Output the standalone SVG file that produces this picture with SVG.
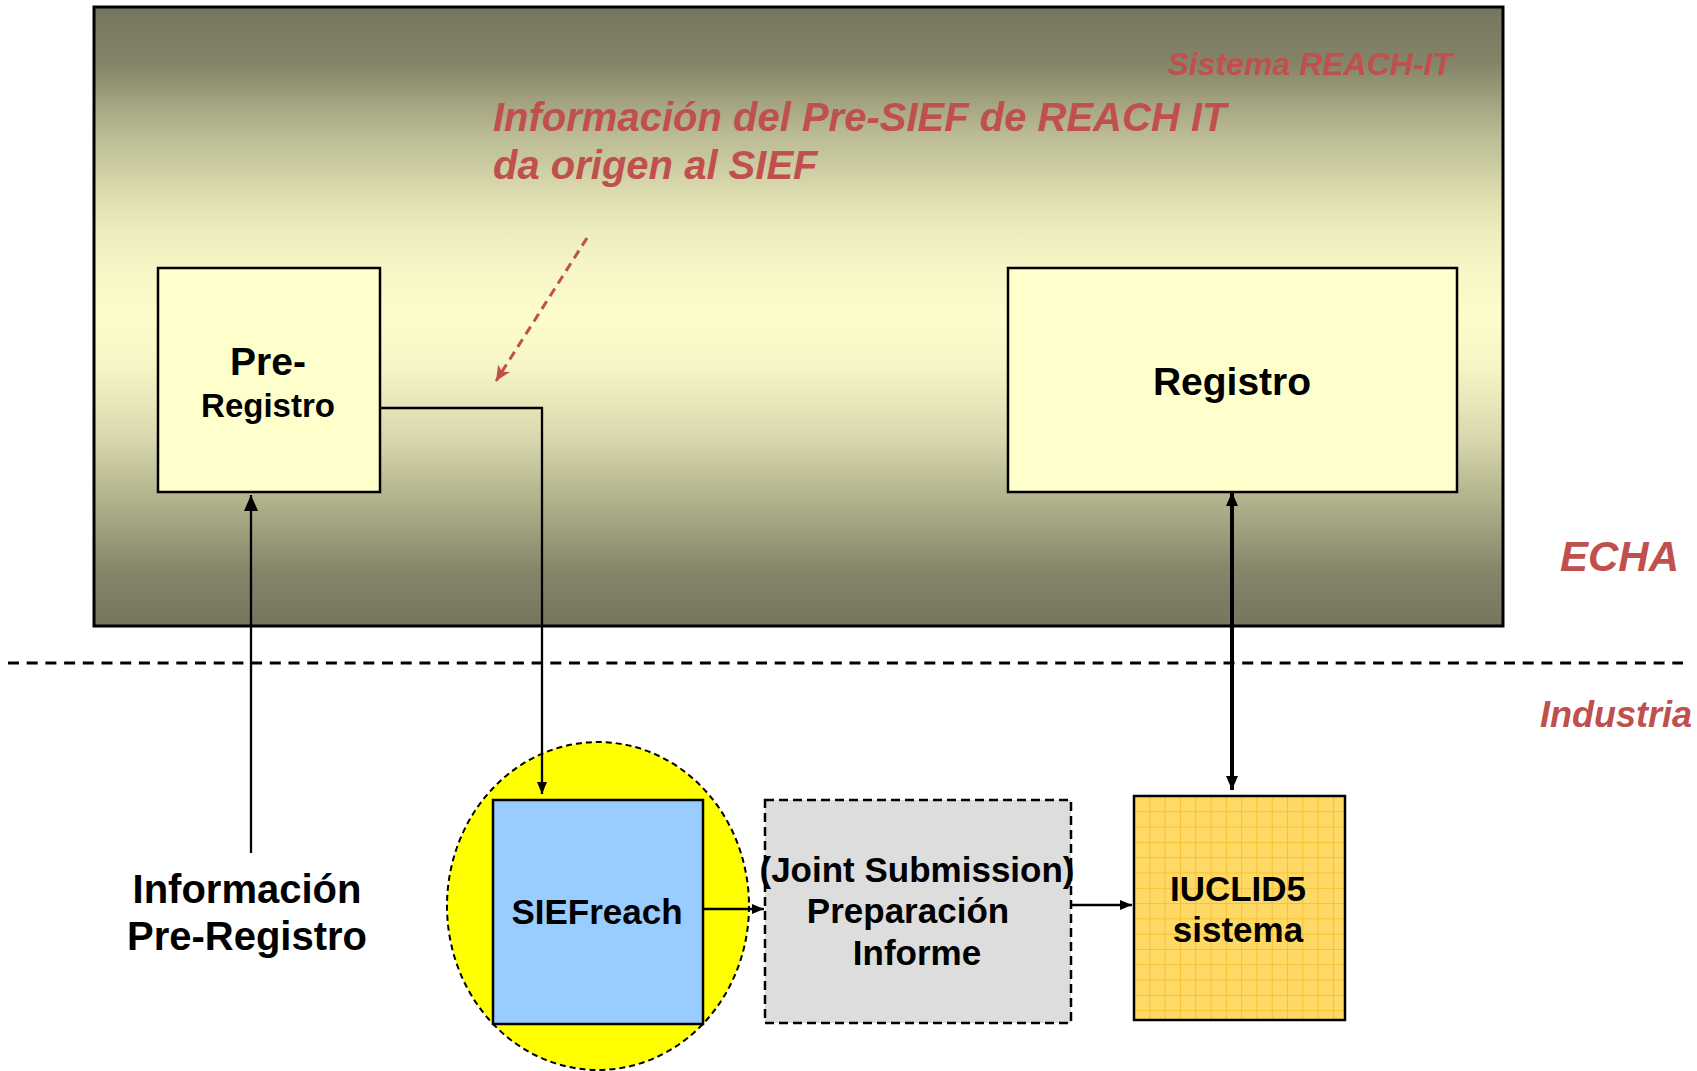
<svg xmlns="http://www.w3.org/2000/svg" width="1697" height="1071" viewBox="0 0 1697 1071">
<style>
.lbl{font-family:"Liberation Sans",Arial,sans-serif;font-weight:bold;fill:#000;text-anchor:middle}
.red{font-family:"Liberation Sans",Arial,sans-serif;font-weight:bold;font-style:italic;fill:#C0504D}
.box{stroke:#000;stroke-width:2.5}
.conn{stroke:#000;stroke-width:2.3;fill:none}
</style>
<defs>
<linearGradient id="bg" x1="0" y1="0" x2="0" y2="1">
<stop offset="0" stop-color="#75765E"/>
<stop offset="0.09" stop-color="#838468"/>
<stop offset="0.15" stop-color="#A1A17F"/>
<stop offset="0.2" stop-color="#B8B892"/>
<stop offset="0.26" stop-color="#CDCDA3"/>
<stop offset="0.31" stop-color="#E0DFB0"/>
<stop offset="0.37" stop-color="#EEEEBF"/>
<stop offset="0.42" stop-color="#F6F5C5"/>
<stop offset="0.5" stop-color="#FDFCCA"/>
<stop offset="0.58" stop-color="#F6F5C5"/>
<stop offset="0.64" stop-color="#E8E7B9"/>
<stop offset="0.7" stop-color="#D7D6AD"/>
<stop offset="0.78" stop-color="#B8B890"/>
<stop offset="0.86" stop-color="#9A9A7A"/>
<stop offset="0.91" stop-color="#85856A"/>
<stop offset="1" stop-color="#75765E"/>
</linearGradient>
<pattern id="grid" patternUnits="userSpaceOnUse" x="1134" y="796" width="15.3" height="15.3">
<rect width="15.3" height="15.3" fill="#FFD966"/>
<path d="M0 0.5H15.3M0.5 0V15.3" stroke="#F7C130" stroke-width="1"/>
</pattern>
<marker id="ahBig" markerUnits="userSpaceOnUse" markerWidth="16" markerHeight="18" refX="16" refY="7" orient="auto">
<path d="M0 0L16 7L0 14Z" fill="#000"/>
</marker>
<marker id="ahSmall" markerUnits="userSpaceOnUse" markerWidth="12" markerHeight="12" refX="12" refY="5" orient="auto">
<path d="M0 0L12 5L0 10Z" fill="#000"/>
</marker>
<marker id="ahThick" markerUnits="userSpaceOnUse" markerWidth="14" markerHeight="14" refX="14" refY="6" orient="auto-start-reverse">
<path d="M0 0L14 6L0 12Z" fill="#000"/>
</marker>
<marker id="ahRed" markerUnits="userSpaceOnUse" markerWidth="16" markerHeight="16" refX="15" refY="7" orient="auto">
<path d="M0 0L15 7L0 14L4 7Z" fill="#C0504D"/>
</marker>
</defs>

<g id="reach-it-system">
<rect x="94" y="7" width="1409" height="619" fill="url(#bg)" stroke="#000" stroke-width="3"/>
<text class="red" x="1452" y="75" font-size="32" text-anchor="end">Sistema REACH-IT</text>
</g>

<g id="note">
<text class="red" x="493" y="131" font-size="40">Información del Pre-SIEF de REACH IT</text>
<text class="red" x="493" y="179" font-size="40">da origen al SIEF</text>
</g>

<g id="divider">
<line x1="8" y1="663" x2="1683" y2="663" stroke="#000" stroke-width="3" stroke-dasharray="11 7.7"/>
<text class="red" x="1679" y="571" font-size="42" text-anchor="end">ECHA</text>
<text class="red" x="1692" y="727" font-size="36" text-anchor="end">Industria</text>
</g>

<g id="pre-registro">
<rect class="box" x="158" y="268" width="222" height="224" fill="#FFFFCC"/>
<text class="lbl" x="268" y="375" font-size="39">Pre-</text>
<text class="lbl" x="268" y="417" font-size="33">Registro</text>
</g>

<g id="registro">
<rect class="box" x="1008" y="268" width="449" height="224" fill="#FFFFCC"/>
<text class="lbl" x="1232" y="395" font-size="39">Registro</text>
</g>

<g id="info-pre-registro">
<text class="lbl" x="247" y="903" font-size="40">Información</text>
<text class="lbl" x="247" y="950" font-size="40">Pre-Registro</text>
</g>

<g id="siefreach">
<ellipse cx="598" cy="906" rx="151" ry="164" fill="#FFFF00" stroke="#000" stroke-width="2" stroke-dasharray="6 4"/>
<rect class="box" x="493" y="800" width="210" height="224" fill="#99CCFF"/>
<text class="lbl" x="597" y="924" font-size="35">SIEFreach</text>
</g>

<g id="joint-submission">
<rect x="765" y="800" width="306" height="223" fill="#DDDDDD" stroke="#000" stroke-width="2.5" stroke-dasharray="9 5"/>
<text class="lbl" x="917" y="882" font-size="35">(Joint Submission)</text>
<text class="lbl" x="908" y="923" font-size="35">Preparación</text>
<text class="lbl" x="917" y="965" font-size="35">Informe</text>
</g>

<g id="iuclid5">
<rect class="box" x="1134" y="796" width="211" height="224" fill="url(#grid)"/>
<text class="lbl" x="1238" y="901" font-size="35">IUCLID5</text>
<text class="lbl" x="1238" y="942" font-size="35">sistema</text>
</g>

<g id="connectors">
<line x1="587" y1="238" x2="496" y2="381" stroke="#C0504D" stroke-width="3" stroke-dasharray="9 6" marker-end="url(#ahRed)"/>
<polyline class="conn" points="380,408 542,408 542,794" marker-end="url(#ahSmall)"/>
<line class="conn" x1="251" y1="853" x2="251" y2="495" marker-end="url(#ahBig)"/>
<line x1="1232" y1="492" x2="1232" y2="790" stroke="#000" stroke-width="4" marker-start="url(#ahThick)" marker-end="url(#ahThick)"/>
<line class="conn" x1="703" y1="909" x2="764" y2="909" marker-end="url(#ahSmall)"/>
<line class="conn" x1="1071" y1="905" x2="1132" y2="905" marker-end="url(#ahSmall)"/>
</g>
</svg>
